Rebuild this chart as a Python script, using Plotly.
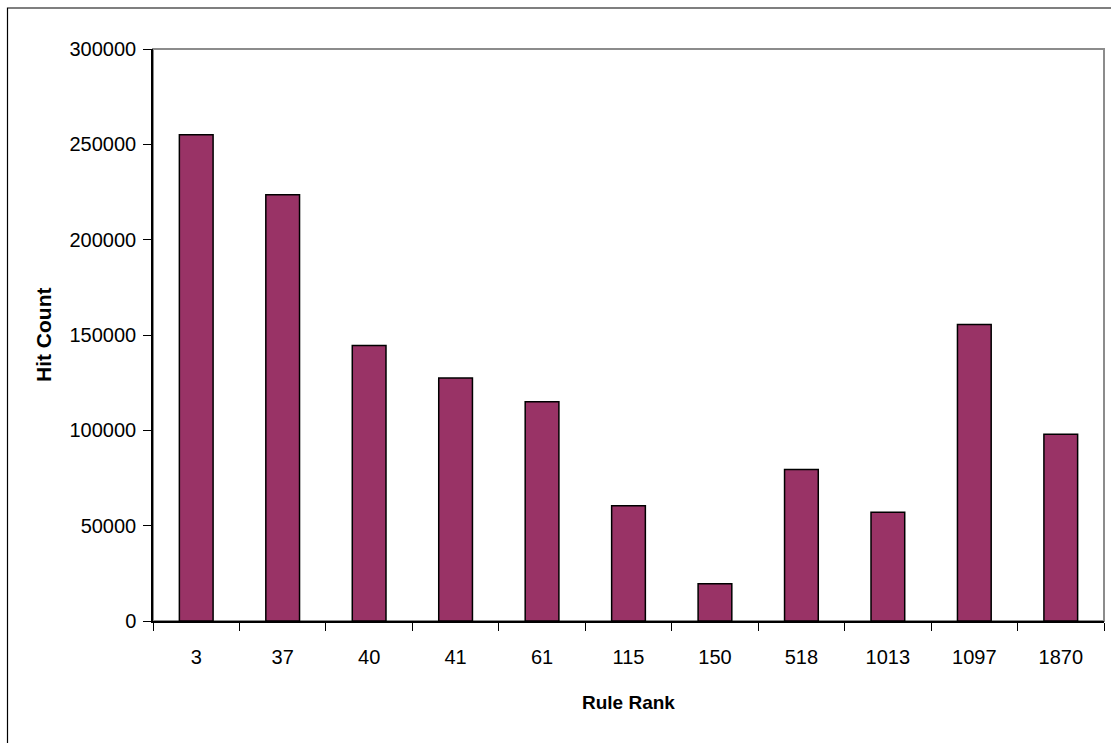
import plotly.graph_objects as go

# Hit counts per rule rank
rule_ranks = ["3", "37", "40", "41", "61", "115", "150", "518", "1013", "1097", "1870"]
hit_counts = [255000, 223500, 144500, 127500, 115000, 60500, 19500, 79500, 57000, 155500, 98000]
y_ticks = [0, 50000, 100000, 150000, 200000, 250000, 300000]

W, H = 1111, 743
L, R, T, B = 153, 7, 49, 122
plot_w = W - L - R
plot_h = H - T - B


def px_to_paper_x(px):
    return (px - L) / plot_w


def px_to_paper_y(py):
    return (H - B - py) / plot_h


font_family = "Liberation Sans, Arial, sans-serif"

fig = go.Figure(
    go.Bar(
        x=rule_ranks,
        y=hit_counts,
        width=0.39,
        marker=dict(color="#993366", line=dict(color="#000000", width=1.5)),
    )
)

fig.update_layout(
    width=W,
    height=H,
    margin=dict(l=L, r=R, t=T, b=B, pad=0),
    paper_bgcolor="white",
    plot_bgcolor="white",
    showlegend=False,
    font=dict(family=font_family, size=20, color="#000000"),
    shapes=[
        # outer chart frame
        dict(type="rect", xref="paper", yref="paper",
             x0=px_to_paper_x(7.5), x1=px_to_paper_x(W + 20),
             y0=px_to_paper_y(H + 20), y1=px_to_paper_y(8),
             line=dict(color="#000000", width=1.2), layer="below"),
        # plot area frame (top and right edges in gray)
        dict(type="rect", xref="paper", yref="paper",
             x0=0, x1=1, y0=0, y1=1,
             line=dict(color="#8c8c8c", width=2), layer="below"),
    ],
    annotations=[
        dict(text="<b>Hit Count</b>", xref="paper", yref="paper",
             x=px_to_paper_x(43), y=0.5, textangle=-90, showarrow=False,
             xanchor="center", yanchor="middle",
             font=dict(family=font_family, size=21, color="#000000")),
        dict(text="<b>Rule Rank</b>", xref="paper", yref="paper",
             x=0.5, y=px_to_paper_y(702), showarrow=False,
             xanchor="center", yanchor="middle",
             font=dict(family=font_family, size=19, color="#000000")),
    ],
)

fig.update_xaxes(
    type="category",
    showline=True, linecolor="#000000", linewidth=1.5,
    ticks="outside", tickson="boundaries", ticklen=8, tickcolor="#000000", tickwidth=1.2,
    ticklabelstandoff=17,
    showgrid=False, zeroline=False,
    tickfont=dict(size=20),
)

fig.update_yaxes(
    range=[0, 300000],
    tickvals=y_ticks,
    tickformat="d",
    showline=True, linecolor="#000000", linewidth=1.5,
    ticks="outside", ticklen=8, tickcolor="#000000", tickwidth=1.2,
    ticklabelstandoff=3,
    showgrid=False, zeroline=False,
    tickfont=dict(size=20),
)

fig.write_html("out.html")
